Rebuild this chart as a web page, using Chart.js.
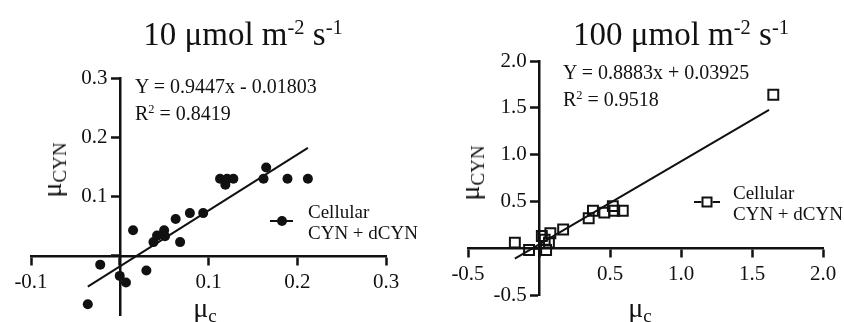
<!DOCTYPE html>
<html>
<head>
<meta charset="utf-8">
<script src="https://cdn.jsdelivr.net/npm/chart.js@4.4.1/dist/chart.umd.min.js"></script>
<style>
  body { margin: 0; background: #fff; width: 844px; height: 322px; position: relative; overflow: hidden;
         font-family: "Liberation Serif", "DejaVu Serif", serif; color: #111; }
  canvas { position: absolute; top: 0; }
  .t { position: absolute; white-space: nowrap; line-height: 1; }
  .c { transform: translate(-50%, -50%); }
  .l { transform: translate(0, -50%); }
  .rot { transform: translate(-50%, -50%) rotate(-90deg); }
  .sup { font-size: 0.62em; position: relative; top: -0.55em; }
  .sub { font-size: 0.68em; position: relative; top: 0.28em; }
  .leg-line { position: absolute; height: 2px; background: #111; }
  .dot { position: absolute; width: 10px; height: 10px; border-radius: 50%; background: #111; transform: translate(-50%, -50%); }
  .sq { position: absolute; width: 7px; height: 7px; border: 2px solid #111; background: #fff; transform: translate(-50%, -50%); }
</style>
</head>
<body>
<canvas id="low" width="420" height="340" style="left:0"></canvas>
<canvas id="high" width="424" height="340" style="left:420px"></canvas>

<div class="t c" style="left:243px;top:34px;font-size:33px">10 μmol m<span class="sup">-2</span> s<span class="sup">-1</span></div>
<div class="t c" style="left:681px;top:34px;font-size:33px">100 μmol m<span class="sup">-2</span> s<span class="sup">-1</span></div>

<div class="t l" style="left:135px;top:86px;font-size:20px">Y = 0.9447x - 0.01803</div>
<div class="t l" style="left:135px;top:113px;font-size:20px">R<span class="sup">2</span> = 0.8419</div>
<div class="t l" style="left:563px;top:72px;font-size:20px">Y = 0.8883x + 0.03925</div>
<div class="t l" style="left:563px;top:99px;font-size:20px">R<span class="sup">2</span> = 0.9518</div>

<div class="t rot" style="left:52px;top:170px;font-size:28px">μ<span class="sub">CYN</span></div>
<div class="t c" style="left:205px;top:308px;font-size:28px">μ<span class="sub">c</span></div>
<div class="t rot" style="left:470px;top:173px;font-size:28px">μ<span class="sub">CYN</span></div>
<div class="t c" style="left:640px;top:308px;font-size:28px">μ<span class="sub">c</span></div>

<div class="leg-line" style="left:270px;top:220px;width:23px"></div>
<div class="dot" style="left:282px;top:221px"></div>
<div class="t l" style="left:308px;top:211px;font-size:19px">Cellular</div>
<div class="t l" style="left:308px;top:232px;font-size:19px">CYN + dCYN</div>

<div class="leg-line" style="left:694px;top:201px;width:26px"></div>
<div class="sq" style="left:707px;top:202px"></div>
<div class="t l" style="left:733px;top:192px;font-size:19px">Cellular</div>
<div class="t l" style="left:733px;top:213px;font-size:19px">CYN + dCYN</div>

<script>
// 10 µmol m-2 s-1 panel
const lowX = [-0.036, -0.022, 0.000, 0.007, 0.030, 0.015, 0.038, 0.042, 0.050, 0.051, 0.063,
              0.068, 0.079, 0.094, 0.113, 0.119, 0.121, 0.128, 0.162, 0.165, 0.189, 0.212];
const lowY = [-0.082, -0.015, -0.034, -0.045, -0.025, 0.043, 0.023, 0.034, 0.043, 0.033, 0.062,
              0.023, 0.072, 0.072, 0.130, 0.120, 0.130, 0.130, 0.130, 0.149, 0.130, 0.130];
const lowFitX = [-0.036, 0.212];
const lowFitY = [-0.052, 0.182];
const lowTicks = [-0.1, 0, 0.1, 0.2, 0.3];

// 100 µmol m-2 s-1 panel
const highX = [-0.17, -0.07, 0.02, 0.04, 0.08, 0.07, 0.05, 0.17, 0.35, 0.38, 0.46, 0.52, 0.53, 0.59, 1.65];
const highY = [0.06, -0.02, 0.13, 0.09, 0.16, 0.06, -0.02, 0.20, 0.32, 0.40, 0.38, 0.45, 0.40, 0.40, 1.64];
const highFitX = [-0.17, 1.62];
const highFitY = [-0.112, 1.478];
const highTicks = [-0.5, 0, 0.5, 1.0, 1.5, 2.0];

const pts = (xs, ys) => xs.map((x, i) => ({ x: x, y: ys[i] }));
const ink = '#111';
const tickFont = { family: '"Liberation Serif", serif', size: 21 };

function axis(min, max, step, other, hide, tail) {
  return {
    type: 'linear', min: min, max: max,
    position: other,
    afterFit: s => { if (s.isHorizontal()) s.height = 0; else s.width = 0; },
    border: { display: true, color: ink, width: 2.5 },
    grid: {
      drawOnChartArea: false, drawTicks: true, tickLength: 8, tickWidth: 2.5,
      tickColor: ctx => (ctx.tick && hide.includes(ctx.tick.value) && ctx.tick.value !== 0) ? 'rgba(0,0,0,0)' : ink
    },
    ticks: {
      stepSize: step, color: ink, font: tickFont, padding: 6, autoSkip: false, maxRotation: 0,
      // y labels sit flush on the axis line otherwise, so pad them with spaces
      callback: v => hide.includes(Math.round(v * 100) / 100) ? '' : v.toFixed(1) + tail
    }
  };
}

function makeChart(id, data, fit, ticks, pad, pointOpts, yHide) {
  const [min, max] = [ticks[0], ticks[ticks.length - 1]];
  new Chart(document.getElementById(id), {
    type: 'scatter',
    data: {
      datasets: [
        Object.assign({ data: data, showLine: false, order: 1 }, pointOpts),
        { type: 'line', data: fit, borderColor: ink, borderWidth: 2, pointRadius: 0, fill: false, order: 2 }
      ]
    },
    options: {
      responsive: false, animation: false,
      layout: { padding: pad },
      plugins: { legend: { display: false }, tooltip: { enabled: false } },
      scales: {
        x: axis(min, max, ticks[2] - ticks[1], { y: 0 }, [0], ''),
        y: axis(min, max, ticks[2] - ticks[1], { x: 0 }, yHide, '\u2002\u200A')
      }
    }
  });
}

makeChart('low', pts(lowX, lowY), pts(lowFitX, lowFitY), lowTicks,
  { left: 31, right: 34, top: 78, bottom: 25 },
  { pointStyle: 'circle', pointRadius: 5, backgroundColor: ink, borderColor: ink, borderWidth: 0 },
  [0, -0.1]);

makeChart('high', pts(highX, highY), pts(highFitX, highFitY), highTicks,
  { left: 48, right: 21, top: 61, bottom: 45 },
  { pointStyle: 'rect', pointRadius: 7, backgroundColor: 'rgba(255,255,255,0)', borderColor: ink, borderWidth: 2 },
  [0]);
</script>
</body>
</html>
